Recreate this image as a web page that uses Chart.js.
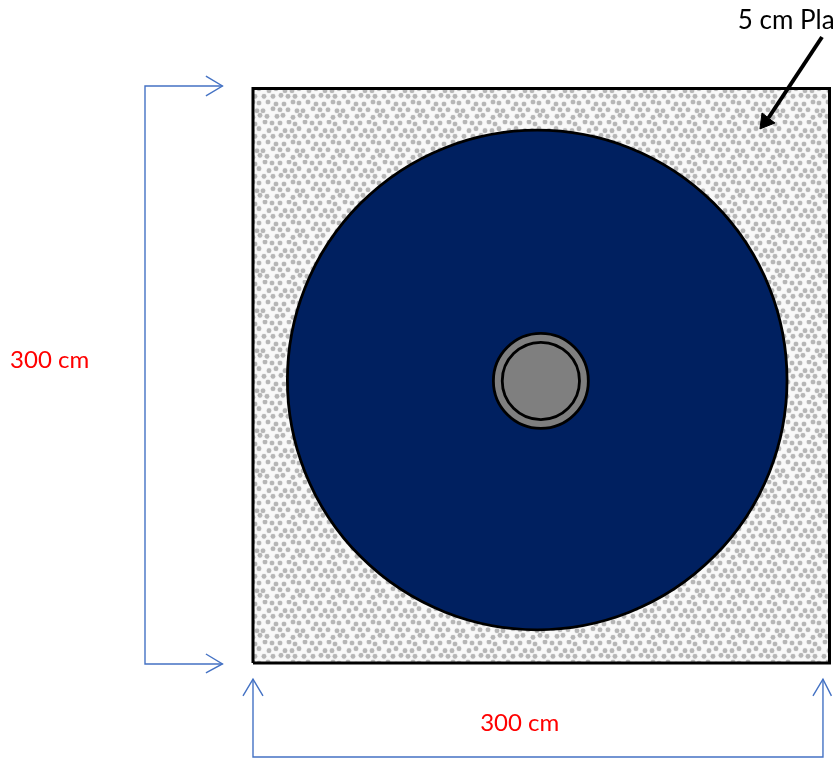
<!DOCTYPE html>
<html>
<head>
<meta charset="utf-8">
<title>Plate cross section</title>
<script src="https://cdn.jsdelivr.net/npm/chart.js@4/dist/chart.umd.min.js"></script>
<style>
    html, body { margin: 0; padding: 0; background: #fff; overflow: hidden; }
    canvas { display: block; }
</style>
</head>
<body>
<canvas id="plateChart" width="833" height="758"></canvas>
<script>
// All values are in cm, plate corner at 0,0
const plateX = [0, 300, 300, 0, 0];
const plateY = [0, 0, 300, 300, 0];

const discCentre = [147.9, 147.8];
const discRadius = 130;
const hubCentre = [149.8, 147.3];
const hubOuterRadius = 24.7;
const hubInnerRadius = 20.1;

// Dimension brackets
const leftBracketX = [-15.9, -56.2, -56.2, -15.9];
const leftBracketY = [301.3, 301.3, -0.5, -0.5];
const topHeadX = [-24.5, -15.9, -24.5];
const topHeadY = [306.5, 301.3, 296.1];
const lowHeadX = [-24.5, -15.9, -24.5];
const lowHeadY = [4.7, -0.5, -5.2];

const bottomBracketX = [0, 0, 296.6, 296.6];
const bottomBracketY = [-8.4, -49.1, -49.1, -8.4];
const leftHeadX = [-5.2, 0, 5.2];
const leftHeadY = [-17.2, -8.4, -17.2];
const rightHeadX = [291.4, 296.6, 301];
const rightHeadY = [-17.2, -8.4, -17.2];

// Pointer arrow
const pointerX = [296.1, 268.2];
const pointerY = [326.9, 284.6];
const pointerHeadX = [263.8, 264.9, 271.6, 263.8];
const pointerHeadY = [278.9, 287.2, 282, 278.9];

// Text labels
const labelTexts = ['300 cm', '300 cm', '5 cm Pla'];
const labelX = [-126.4, 118.2, 252.3];
const labelY = [158, -31.3, 335.7];
const labelColors = ['#ff0000', '#ff0000', '#000000'];
const labelFonts = ['24px Lato', '24px Lato', '26px Lato'];

const pxPerCmX = 1.9217;
const pxPerCmY = 1.915;

function toPoints(xs, ys) {
    return xs.map(function (x, i) {
        return { x: x, y: ys[i] };
    });
}

// Grey stipple used as the plate fill
function makeStipple() {
    const tile = document.createElement('canvas');
    tile.width = 40;
    tile.height = 40;
    const tileCtx = tile.getContext('2d');
    const nudge = [0, 1, -1, 1, 0, -1, 1, 0, -1, 0, 1, -1, 0];
    tileCtx.fillStyle = '#f9f9f9';
    tileCtx.fillRect(0, 0, 40, 40);
    tileCtx.fillStyle = '#b6b6b6';
    tileCtx.shadowColor = '#c8c8c8';
    tileCtx.shadowBlur = 1.2;
    for (let row = 0; row < 6; row++) {
        for (let col = 0; col < 5; col++) {
            const x = col * 8 + (row % 2) * 4 + nudge[(row * 3 + col) % 13];
            const y = row * 6.67 + 3 + nudge[(row + col * 5) % 13];
            // wrap across the tile edge so the pattern has no seams
            [-40, 0, 40].forEach(function (shift) {
                tileCtx.beginPath();
                tileCtx.arc(x + shift, y, 2.3, 0, Math.PI * 2);
                tileCtx.fill();
            });
        }
    }
    return tileCtx.createPattern(tile, 'repeat');
}

function lineSet(xs, ys, color, width) {
    return {
        type: 'scatter',
        data: toPoints(xs, ys),
        showLine: true,
        fill: false,
        borderColor: color,
        borderWidth: width,
        pointRadius: 0,
        tension: 0,
        clip: false
    };
}

function circleSet(centre, radius, fillColor) {
    return {
        type: 'scatter',
        data: [{ x: centre[0], y: centre[1] }],
        pointRadius: function (ctx) {
            return radius * ctx.chart.scales.x.width / (ctx.chart.scales.x.max - ctx.chart.scales.x.min);
        },
        pointBackgroundColor: fillColor,
        pointBorderColor: '#000000',
        pointBorderWidth: 2.8,
        clip: false
    };
}

// Draws the labels from their data positions
const labelPlugin = {
    id: 'labelPlugin',
    afterDatasetsDraw: function (chart) {
        const c = chart.ctx;
        c.save();
        c.textAlign = 'left';
        c.textBaseline = 'middle';
        labelTexts.forEach(function (text, i) {
            c.font = labelFonts[i];
            c.fillStyle = labelColors[i];
            c.fillText(text, chart.scales.x.getPixelForValue(labelX[i]), chart.scales.y.getPixelForValue(labelY[i]));
        });
        c.restore();
    }
};

const plateSet = lineSet(plateX, plateY, '#000000', 3);
plateSet.fill = 'shape';
plateSet.backgroundColor = makeStipple();

const pointerHeadSet = lineSet(pointerHeadX, pointerHeadY, '#000000', 1);
pointerHeadSet.fill = 'shape';
pointerHeadSet.backgroundColor = '#000000';

const blue = '#4472c4';

// Chart.js paints the first dataset last, so the top layer comes first
new Chart(document.getElementById('plateChart').getContext('2d'), {
    type: 'scatter',
    data: {
        datasets: [
            pointerHeadSet,
            lineSet(pointerX, pointerY, '#000000', 4),
            lineSet(rightHeadX, rightHeadY, blue, 1.4),
            lineSet(leftHeadX, leftHeadY, blue, 1.4),
            lineSet(bottomBracketX, bottomBracketY, blue, 1.4),
            lineSet(lowHeadX, lowHeadY, blue, 1.4),
            lineSet(topHeadX, topHeadY, blue, 1.4),
            lineSet(leftBracketX, leftBracketY, blue, 1.4),
            circleSet(hubCentre, hubInnerRadius, '#7f7f7f'),
            circleSet(hubCentre, hubOuterRadius, '#7f7f7f'),
            circleSet(discCentre, discRadius, '#002060'),
            plateSet
        ]
    },
    options: {
        responsive: false,
        animation: false,
        layout: { padding: 0 },
        plugins: {
            legend: { display: false },
            tooltip: { enabled: false }
        },
        scales: {
            x: {
                type: 'linear',
                display: false,
                min: -253 / pxPerCmX,
                max: 300 + (833 - 829.5) / pxPerCmX
            },
            y: {
                type: 'linear',
                display: false,
                min: -(758 - 663) / pxPerCmY,
                max: 300 + 88.5 / pxPerCmY
            }
        }
    },
    plugins: [labelPlugin]
});
</script>
</body>
</html>
